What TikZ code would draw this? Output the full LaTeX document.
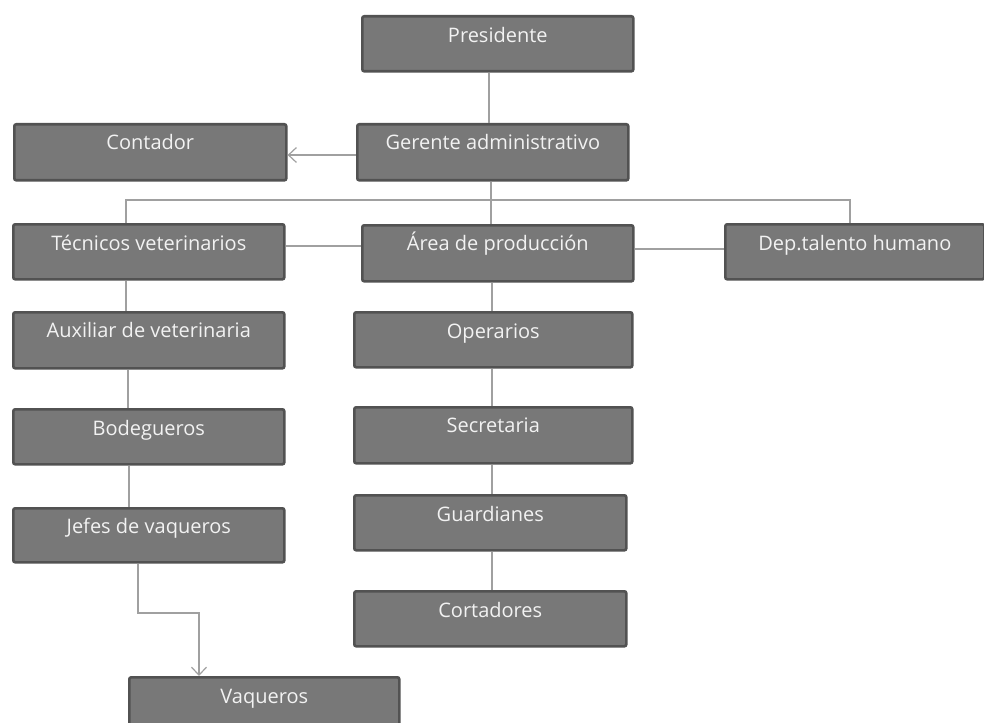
\documentclass[tikz,border=0pt]{standalone}
\usepackage{fontspec}
\setmainfont{Open Sans}
\usetikzlibrary{arrows.meta}
\definecolor{boxfill}{RGB}{120,120,120}
\definecolor{boxline}{RGB}{82,82,82}
\definecolor{boxtext}{RGB}{242,242,242}
\definecolor{connline}{RGB}{160,160,160}
\tikzset{
  orgbox/.style={draw=boxline, fill=boxfill, line width=2.6pt, rounded corners=2pt,
    text=boxtext, font=\fontsize{20}{22}\selectfont, inner xsep=0pt, inner ysep=0pt,
    text height=26pt, text depth=29pt, anchor=north west},
  conn/.style={draw=connline, line width=1.3pt},
  arr/.style={conn, -{Straight Barb[length=8pt, width=15pt, line width=1.2pt]}}
}
\begin{document}
\begin{tikzpicture}[x=1pt, y=-1pt]
\clip (0,0) rectangle (984,722);
\fill[white] (0,0) rectangle (984,722);
% helper coordinates for connector positions
\coordinate (xp) at (489,0);
\coordinate (xg) at (491,0);
\coordinate (busL) at (126,200);
\coordinate (busR) at (850,200);
\coordinate (ya) at (0,155);
\coordinate (yt) at (0,246);
\coordinate (yd) at (0,249);
\coordinate (xl1) at (126,0);
\coordinate (xl2) at (128,0);
\coordinate (xl3) at (129,0);
\coordinate (xm) at (492,0);
\coordinate (xj) at (138,0);
\coordinate (j1) at (138,613);
\coordinate (j2) at (199,613);

% boxes
\node[orgbox, minimum width=271pt] (pres) at (361,15) {Presidente};
\node[orgbox, minimum width=271pt, text height=25pt, text depth=31pt] (ger) at (356,123) {Gerente administrativo};
\node[orgbox, minimum width=272pt, text height=25pt, text depth=31pt] (cont) at (13,123) {Contador};
\node[orgbox, minimum width=271pt] (tec) at (12,223) {Técnicos veterinarios};
\node[orgbox, minimum width=271pt, text height=25pt, text depth=31pt] (area) at (361,224) {Área de producción};
\node[orgbox, minimum width=259pt] (dep) at (724,223) {Dep.talento humano};
\node[orgbox, minimum width=271pt, text height=25pt, text depth=31pt] (aux) at (12,311) {Auxiliar de veterinaria};
\node[orgbox, minimum width=271pt] (bod) at (12,408) {Bodegueros};
\node[orgbox, minimum width=271pt, text height=25pt, text depth=29pt] (jef) at (12,507) {Jefes de vaqueros};
\node[orgbox, minimum width=270pt] (vaq) at (128,676) {Vaqueros};
\node[orgbox, minimum width=278pt] (oper) at (353,311) {Operarios};
\node[orgbox, minimum width=278pt, text height=25pt, text depth=31pt] (sec) at (353,406) {Secretaria};
\node[orgbox, minimum width=272pt] (guard) at (353,494) {Guardianes};
\node[orgbox, minimum width=272pt] (cort) at (353,590) {Cortadores};

% connectors
\draw[conn] (pres.south -| xp) -- (ger.north -| xp);
\draw[arr] (ger.west |- ya) -- (cont.east |- ya);
\draw[conn] (ger.south -| xg) -- (area.north -| xg);
\draw[conn] (tec.north -| busL) -- (busL) -- (busR) -- (dep.north -| busR);
\draw[conn] (tec.east |- yt) -- (area.west |- yt);
\draw[conn] (area.east |- yd) -- (dep.west |- yd);
\draw[conn] (tec.south -| xl1) -- (aux.north -| xl1);
\draw[conn] (aux.south -| xl2) -- (bod.north -| xl2);
\draw[conn] (bod.south -| xl3) -- (jef.north -| xl3);
\draw[arr] (jef.south -| xj) -- (j1) -- (j2) -- (vaq.north -| j2);
\draw[conn] (area.south -| xm) -- (oper.north -| xm);
\draw[conn] (oper.south -| xm) -- (sec.north -| xm);
\draw[conn] (sec.south -| xm) -- (guard.north -| xm);
\draw[conn] (guard.south -| xm) -- (cort.north -| xm);
\end{tikzpicture}
\end{document}
